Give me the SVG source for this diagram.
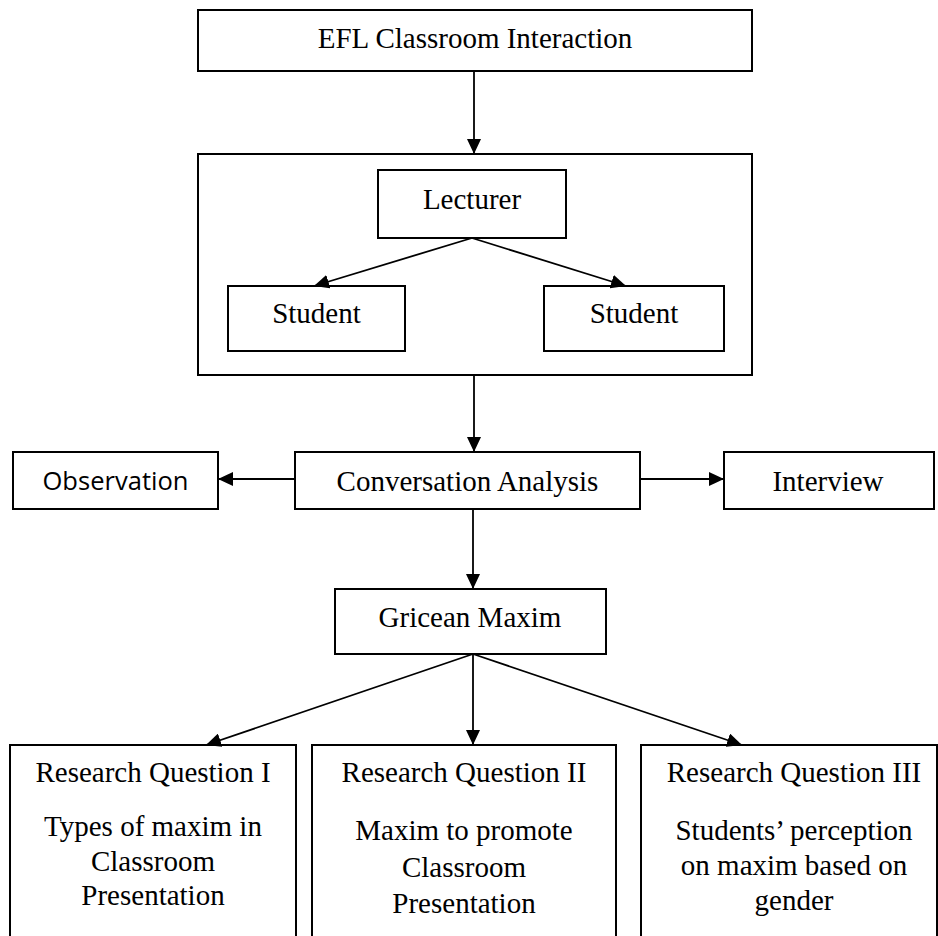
<svg xmlns="http://www.w3.org/2000/svg" width="938" height="936" viewBox="0 0 938 936">
<style>
.box{fill:#fff;stroke:#000;stroke-width:2}
.t{font-family:"Liberation Serif","Times New Roman",serif;font-size:29px;fill:#000;text-anchor:middle}
.s{font-family:"Open Sans","Liberation Sans",sans-serif;font-size:25px;fill:#000;text-anchor:middle}
.c{stroke:#000;stroke-width:1.8;fill:none;marker-end:url(#ah)}
</style>
<defs>
<marker id="ah" markerUnits="userSpaceOnUse" markerWidth="16" markerHeight="14" refX="15" refY="7" orient="auto">
<path d="M0,0 L15,7 L0,14 Z" fill="#000"/>
</marker>
</defs>
<rect width="938" height="936" fill="#fff"/>
<g id="efl"><rect class="box" x="198" y="10" width="554" height="61"/><text class="t" x="475" y="48">EFL Classroom Interaction</text></g>
<g id="group"><rect class="box" x="198" y="154" width="554" height="221"/></g>
<g id="lecturer"><rect class="box" x="378" y="170" width="188" height="68"/><text class="t" x="472" y="209">Lecturer</text></g>
<g id="student1"><rect class="box" x="228" y="286" width="177" height="65"/><text class="t" x="316.5" y="323">Student</text></g>
<g id="student2"><rect class="box" x="544" y="286" width="180" height="65"/><text class="t" x="634" y="323">Student</text></g>
<g id="observation"><rect class="box" x="13" y="452" width="205" height="57"/><text class="s" x="115.5" y="490" textLength="146" lengthAdjust="spacingAndGlyphs">Observation</text></g>
<g id="conversation"><rect class="box" x="295" y="452" width="345" height="57"/><text class="t" x="467.5" y="491">Conversation Analysis</text></g>
<g id="interview"><rect class="box" x="724" y="452" width="210" height="57"/><text class="t" x="828" y="491">Interview</text></g>
<g id="gricean"><rect class="box" x="335" y="589" width="271" height="65"/><text class="t" x="470" y="627">Gricean Maxim</text></g>
<g id="rq1"><rect class="box" x="10" y="745" width="286" height="200"/>
<text class="t" x="153" y="782">Research Question I</text>
<text class="t" x="153" y="836">Types of maxim in</text>
<text class="t" x="153" y="871">Classroom</text>
<text class="t" x="153" y="905">Presentation</text></g>
<g id="rq2"><rect class="box" x="312" y="745" width="304" height="200"/>
<text class="t" x="464" y="782">Research Question II</text>
<text class="t" x="464" y="840">Maxim to promote</text>
<text class="t" x="464" y="877">Classroom</text>
<text class="t" x="464" y="913">Presentation</text></g>
<g id="rq3"><rect class="box" x="641" y="745" width="296" height="200"/>
<text class="t" x="794" y="782">Research Question III</text>
<text class="t" x="794" y="840">Students’ perception</text>
<text class="t" x="794" y="875">on maxim based on</text>
<text class="t" x="794" y="910">gender</text></g>
<g id="connectors">
<line class="c" x1="474" y1="71" x2="474" y2="154"/>
<line class="c" x1="472" y1="238" x2="314" y2="286"/>
<line class="c" x1="472" y1="238" x2="626" y2="286"/>
<line class="c" x1="474" y1="375" x2="474" y2="452"/>
<line class="c" x1="295" y1="479" x2="218" y2="479"/>
<line class="c" x1="640" y1="479" x2="724" y2="479"/>
<line class="c" x1="473" y1="509" x2="473" y2="589"/>
<line class="c" x1="473" y1="654" x2="206" y2="745"/>
<line class="c" x1="473" y1="654" x2="473" y2="745"/>
<line class="c" x1="473" y1="654" x2="742" y2="745"/>
</g>
</svg>
